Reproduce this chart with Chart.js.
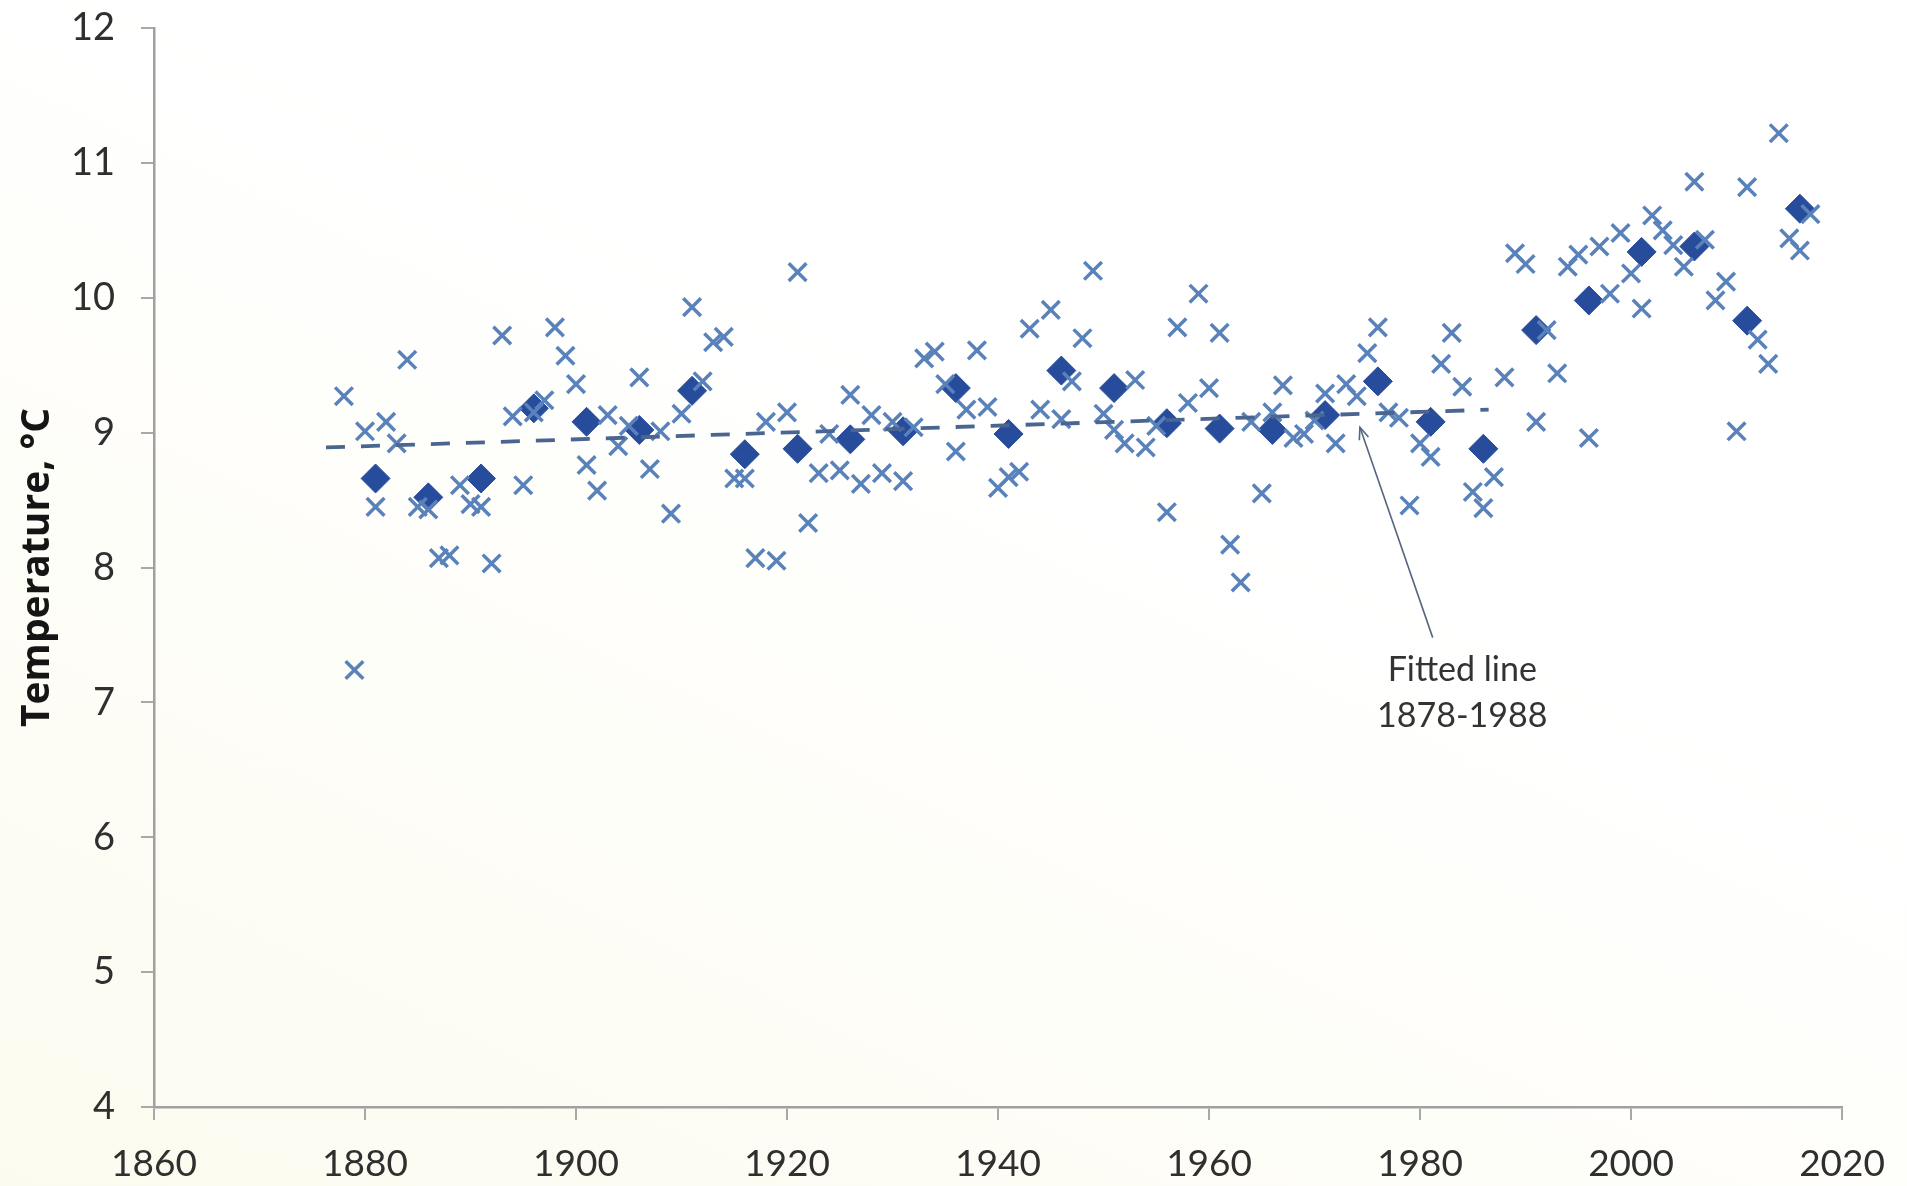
<!DOCTYPE html>
<html>
<head>
<meta charset="utf-8">
<title>Annual mean temperature</title>
<script src="https://cdn.jsdelivr.net/npm/chart.js@4.4.1/dist/chart.umd.min.js"></script>
<style>
  html, body { margin: 0; padding: 0; width: 1907px; height: 1186px; overflow: hidden;
    background: linear-gradient(205deg, #ffffff 0%, #ffffff 40%, #fcfbef 100%); }
  canvas { display: block; }
</style>
</head>
<body>
<canvas id="chart" width="1907" height="1186"></canvas>
<script>
// Annual mean temperatures (°C)
const annualYears = [
  1878,1879,1880,1881,1882,1883,1884,1885,1886,1887,1888,1889,1890,1891,1892,1893,1894,1895,1896,1897,
  1898,1899,1900,1901,1902,1903,1904,1905,1906,1907,1908,1909,1910,1911,1912,1913,1914,1915,1916,1917,
  1918,1919,1920,1921,1922,1923,1924,1925,1926,1927,1928,1929,1930,1931,1932,1933,1934,1935,1936,1937,
  1938,1939,1940,1941,1942,1943,1944,1945,1946,1947,1948,1949,1950,1951,1952,1953,1954,1955,1956,1957,
  1958,1959,1960,1961,1962,1963,1964,1965,1966,1967,1968,1969,1970,1971,1972,1973,1974,1975,1976,1977,
  1978,1979,1980,1981,1982,1983,1984,1985,1986,1987,1988,1989,1990,1991,1992,1993,1994,1995,1996,1997,
  1998,1999,2000,2001,2002,2003,2004,2005,2006,2007,2008,2009,2010,2011,2012,2013,2014,2015,2016,2017
];
const annualTemps = [
  9.27,7.24,9.01,8.45,9.08,8.92,9.54,8.45,8.43,8.07,8.09,8.61,8.47,8.45,8.03,9.72,9.12,8.61,9.15,9.24,
  9.78,9.57,9.36,8.76,8.57,9.13,8.90,9.05,9.41,8.73,9.01,8.40,9.14,9.93,9.38,9.67,9.71,8.66,8.66,8.07,
  9.08,8.05,9.15,10.19,8.33,8.70,8.99,8.72,9.28,8.62,9.13,8.70,9.08,8.64,9.04,9.55,9.60,9.36,8.86,9.17,
  9.61,9.19,8.59,8.67,8.71,9.77,9.17,9.91,9.10,9.38,9.70,10.20,9.14,9.02,8.92,9.39,8.89,9.05,8.41,9.78,
  9.22,10.03,9.33,9.74,8.17,7.89,9.08,8.55,9.15,9.35,8.96,8.99,9.09,9.29,8.92,9.36,9.27,9.59,9.78,9.15,
  9.11,8.46,8.92,8.82,9.51,9.74,9.34,8.56,8.44,8.67,9.41,10.33,10.25,9.08,9.76,9.44,10.23,10.32,8.96,10.38,
  10.03,10.48,10.18,9.92,10.61,10.50,10.39,10.23,10.86,10.43,9.98,10.12,9.01,10.82,9.69,9.51,11.22,10.44,10.35,10.62
];

// Five-year means
const meanYears = [1881,1886,1891,1896,1901,1906,1911,1916,1921,1926,1931,1936,1941,1946,
                   1951,1956,1961,1966,1971,1976,1981,1986,1991,1996,2001,2006,2011,2016];
const meanTemps = [8.66,8.52,8.66,9.18,9.08,9.02,9.31,8.84,8.88,8.95,9.01,9.33,8.99,9.46,
                   9.33,9.07,9.03,9.02,9.13,9.38,9.08,8.88,9.76,9.98,10.34,10.38,9.83,10.66];

// Linear fit over 1878-1988 (drawn end points)
const fitYears = [1876.3, 1986.5];
const fitTemps = [8.89, 9.17];

// Axis ticks
const xTicks = [1860,1880,1900,1920,1940,1960,1980,2000,2020];
const yTicks = [4,5,6,7,8,9,10,11,12];

// Callout for the fitted line (data coordinates)
const noteLines = ['Fitted line', '1878-1988'];
const noteYear = 1984.0;
const noteTemps = [7.24, 6.90];
const arrowFrom = [1981.2, 7.48];
const arrowTo = [1974.3, 9.04];

const pairs = (xs, ys) => xs.map((x, i) => ({ x: x, y: ys[i] }));

const fitNote = {
  id: 'fitNote',
  afterDatasetsDraw(chart) {
    const { ctx, scales: { x, y } } = chart;
    const x0 = x.getPixelForValue(arrowFrom[0]), y0 = y.getPixelForValue(arrowFrom[1]);
    const x1 = x.getPixelForValue(arrowTo[0]), y1 = y.getPixelForValue(arrowTo[1]);
    ctx.save();
    ctx.strokeStyle = '#56667f';
    ctx.lineWidth = 1.6;
    ctx.beginPath();
    ctx.moveTo(x0, y0);
    ctx.lineTo(x1, y1);
    ctx.stroke();
    const ang = Math.atan2(y1 - y0, x1 - x0);
    const len = 13, spread = 0.38;
    ctx.beginPath();
    ctx.moveTo(x1 - len * Math.cos(ang - spread), y1 - len * Math.sin(ang - spread));
    ctx.lineTo(x1, y1);
    ctx.lineTo(x1 - len * Math.cos(ang + spread), y1 - len * Math.sin(ang + spread));
    ctx.stroke();
    ctx.fillStyle = '#333333';
    ctx.font = '34px Lato';
    ctx.textAlign = 'center';
    ctx.textBaseline = 'middle';
    noteLines.forEach((t, i) => {
      ctx.fillText(t, x.getPixelForValue(noteYear), y.getPixelForValue(noteTemps[i]));
    });
    ctx.restore();
  }
};

new Chart(document.getElementById('chart'), {
  type: 'scatter',
  data: {
    datasets: [
      {
        label: 'Fitted line 1878-1988',
        data: pairs(fitYears, fitTemps),
        showLine: true,
        borderColor: '#4a6690',
        borderWidth: 3.8,
        borderDash: [19, 16],
        pointRadius: 0,
        order: 0
      },
      {
        label: 'Annual mean',
        data: pairs(annualYears, annualTemps),
        pointStyle: 'crossRot',
        pointRadius: 12.5,
        borderColor: '#5a82ba',
        backgroundColor: '#5a82ba',
        borderWidth: 3.5,
        order: 1
      },
      {
        label: '5-year mean',
        data: pairs(meanYears, meanTemps),
        pointStyle: 'rectRot',
        pointRadius: 14.5,
        backgroundColor: '#284c9c',
        borderColor: '#284c9c',
        borderWidth: 1,
        order: 2
      }
    ]
  },
  options: {
    responsive: false,
    devicePixelRatio: 1,
    animation: false,
    events: [],
    layout: { padding: { top: 28, right: 64, left: 0, bottom: 0 } },
    plugins: {
      legend: { display: false },
      tooltip: { enabled: false }
    },
    scales: {
      x: {
        type: 'linear',
        min: 1860,
        max: 2020,
        afterBuildTicks: s => { s.ticks = xTicks.map(v => ({ value: v })); },
        afterFit: s => { s.height = 79; },
        grid: { drawOnChartArea: false, drawTicks: true, tickLength: 13, color: '#a8a8a8', lineWidth: 2 },
        border: { display: true, color: '#a0a0a0', width: 2.5 },
        ticks: {
          color: '#2f2f2f',
          font: { family: 'Lato', size: 37 },
          padding: 22,
          maxRotation: 0,
          callback: v => String(v)
        }
      },
      y: {
        type: 'linear',
        min: 4,
        max: 12,
        afterBuildTicks: s => { s.ticks = yTicks.map(v => ({ value: v })); },
        afterFit: s => { s.width = 154; s.paddingTop = 0; s.paddingBottom = 0; },
        grid: { drawOnChartArea: false, drawTicks: true, tickLength: 13, color: '#a8a8a8', lineWidth: 2 },
        border: { display: true, color: '#a0a0a0', width: 2.5 },
        ticks: {
          color: '#2f2f2f',
          font: { family: 'Lato', size: 38 },
          padding: 26,
          callback: v => String(v)
        },
        title: {
          display: true,
          text: 'Temperature, °C',
          color: '#151515',
          font: { family: 'Open Sans', size: 39, weight: 'bold' },
          padding: { top: 14, bottom: 0 }
        }
      }
    }
  },
  plugins: [fitNote]
});
</script>
</body>
</html>
